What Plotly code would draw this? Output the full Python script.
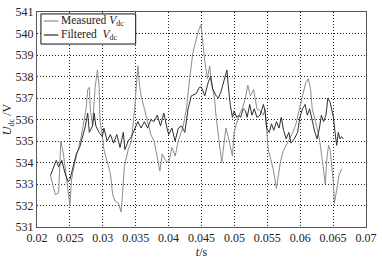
import plotly.graph_objects as go

# Measured V_dc (grey)
meas_t = [0.02205, 0.02279, 0.02328, 0.02362, 0.02402, 0.02451, 0.02475, 0.02500, 0.02525, 0.02574,
          0.02623, 0.02672, 0.02746, 0.02771, 0.02795, 0.02810, 0.02844, 0.02884, 0.02918, 0.02943,
          0.02958, 0.02992, 0.03017, 0.03066, 0.03115, 0.03150, 0.03189, 0.03238, 0.03278, 0.03297,
          0.03327, 0.03386, 0.03435, 0.03484, 0.03509, 0.03533, 0.03558, 0.03582, 0.03632, 0.03681,
          0.03730, 0.03779, 0.03828, 0.03868, 0.03902, 0.03951, 0.04001, 0.04050, 0.04099, 0.04148,
          0.04222, 0.04271, 0.04320, 0.04369, 0.04450, 0.04490, 0.04510, 0.04550, 0.04590, 0.04624,
          0.04649, 0.04698, 0.04723, 0.04757, 0.04787, 0.04807, 0.04837, 0.04871, 0.04906, 0.04946,
          0.04970, 0.04995, 0.05035, 0.05069, 0.05119, 0.05168, 0.05203, 0.05243, 0.05292, 0.05342,
          0.05391, 0.05441, 0.05465, 0.05490, 0.05515, 0.05549, 0.05589, 0.05639, 0.05663, 0.05698,
          0.05738, 0.05787, 0.05837, 0.05886, 0.05936, 0.05985, 0.06035, 0.06084, 0.06124, 0.06158,
          0.06183, 0.06233, 0.06272, 0.06307, 0.06332, 0.06356, 0.06381, 0.06406, 0.06431, 0.06455,
          0.06480, 0.06505, 0.06520, 0.06540, 0.06569, 0.06589, 0.06629]
meas_v = [533.4, 532.5, 532.6, 535.0, 534.4, 533.2, 532.5, 532.0, 533.2, 534.0,
          534.6, 535.2, 536.5, 537.4, 537.5, 536.5, 535.7, 537.5, 538.3, 537.6,
          535.9, 535.3, 534.6, 534.1, 533.5, 532.5, 532.2, 532.1, 531.7, 532.4,
          533.8, 534.6, 535.0, 536.5, 537.8, 538.5, 537.6, 537.1, 536.5, 535.9,
          535.3, 535.0, 534.3, 533.6, 534.4, 534.1, 534.0, 534.7, 534.3, 535.0,
          535.7, 536.5, 537.9, 539.1, 540.1, 540.4, 539.9, 538.7, 537.9, 538.5,
          537.7, 537.0, 536.1, 535.1, 534.5, 534.0, 534.8, 535.6, 535.2, 534.6,
          534.3, 535.4, 535.9, 536.2, 536.5, 537.0, 537.6, 537.1, 537.4, 536.5,
          536.4, 536.2, 536.5, 535.5, 534.6, 534.2, 533.7, 532.8, 533.4, 534.0,
          534.5, 534.8, 535.1, 535.4, 535.8, 536.5, 537.1, 537.7, 537.9, 537.4,
          536.5, 535.9, 535.4, 534.8, 534.2, 533.6, 533.0, 534.2, 534.8, 534.6,
          533.9, 533.0, 532.1, 532.4, 533.0, 533.4, 533.7]

# Filtered V_dc (dark)
filt_t = [0.02205, 0.02254, 0.02293, 0.02328, 0.02377, 0.02426, 0.02475, 0.02500, 0.02549, 0.02598,
          0.02648, 0.02697, 0.02736, 0.02771, 0.02795, 0.02844, 0.02869, 0.02894, 0.02943, 0.02992,
          0.03017, 0.03066, 0.03115, 0.03164, 0.03213, 0.03262, 0.03312, 0.03336, 0.03386, 0.03435,
          0.03484, 0.03533, 0.03582, 0.03632, 0.03681, 0.03730, 0.03779, 0.03828, 0.03877, 0.03927,
          0.03976, 0.04001, 0.04050, 0.04099, 0.04148, 0.04197, 0.04246, 0.04296, 0.04345, 0.04419,
          0.04468, 0.04500, 0.04550, 0.04599, 0.04639, 0.04673, 0.04723, 0.04757, 0.04797, 0.04847,
          0.04886, 0.04906, 0.04936, 0.04970, 0.04995, 0.05035, 0.05069, 0.05094, 0.05134, 0.05168,
          0.05193, 0.05233, 0.05267, 0.05302, 0.05342, 0.05391, 0.05441, 0.05465, 0.05490, 0.05530,
          0.05564, 0.05599, 0.05639, 0.05678, 0.05713, 0.05747, 0.05787, 0.05827, 0.05861, 0.05911,
          0.05960, 0.05995, 0.06035, 0.06074, 0.06109, 0.06143, 0.06183, 0.06223, 0.06257, 0.06292,
          0.06322, 0.06356, 0.06391, 0.06421, 0.06455, 0.06480, 0.06505, 0.06530, 0.06554, 0.06579,
          0.06604, 0.06629, 0.06653]
filt_v = [533.4, 533.8, 534.1, 533.8, 534.1, 533.5, 533.1, 533.2, 533.8, 534.4,
          534.7, 535.2, 535.7, 536.3, 535.4, 535.7, 536.3, 535.7, 535.4, 535.2,
          535.6, 535.0, 535.3, 534.9, 535.3, 534.7, 535.4, 534.6, 535.0, 535.2,
          535.6, 535.9, 535.6, 535.9, 535.6, 536.0, 535.9, 536.2, 535.7, 536.3,
          535.6, 535.3, 535.6, 535.0, 535.6, 535.7, 535.4, 536.5, 537.1, 537.2,
          537.5, 537.5, 537.1, 537.7, 538.0, 537.4, 537.1, 537.0, 537.3, 537.9,
          538.3, 537.6, 536.7, 536.1, 536.4, 536.1, 536.2, 536.1, 536.5, 536.4,
          536.1, 536.7, 536.2, 536.5, 536.1, 536.2, 536.7, 536.4, 535.6, 535.4,
          535.8, 535.5, 535.9, 535.6, 536.1, 535.5, 535.1, 535.4, 534.9, 535.1,
          535.4, 536.1, 536.5, 536.7, 536.2, 536.5, 535.9, 535.4, 535.1, 535.6,
          536.2, 535.9, 536.2, 537.0, 536.8, 536.5, 536.1, 535.4, 534.8, 535.4,
          535.1, 535.2, 535.1]

series_names = ["Measured <i>V</i><sub>dc</sub>", "Filtered  <i>V</i><sub>dc</sub>"]
series_colors = ["#8c8c8c", "#2e2e2e"]

x_ticks = [0.02, 0.025, 0.03, 0.035, 0.04, 0.045, 0.05, 0.055, 0.06, 0.065, 0.07]
x_ticklabels = ["0.02", "0.025", "0.03", "0.035", "0.04", "0.045", "0.05", "0.055", "0.06", "0.065", "0.07"]
y_ticks = [531, 532, 533, 534, 535, 536, 537, 538, 539, 540, 541]

FONT = "Liberation Serif"

fig = go.Figure()
fig.add_trace(go.Scatter(x=meas_t, y=meas_v, mode="lines",
                         line=dict(color=series_colors[0], width=1),
                         name=series_names[0], showlegend=False))
fig.add_trace(go.Scatter(x=filt_t, y=filt_v, mode="lines",
                         line=dict(color=series_colors[1], width=1),
                         name=series_names[1], showlegend=False))

axis_common = dict(showline=True, linecolor="#555555", linewidth=1, mirror=True,
                   showgrid=True, gridcolor="#222222", griddash="1px,2px", gridwidth=1,
                   ticks="", zeroline=False, ticklabeloverflow="allow",
                   tickfont=dict(family=FONT, size=12, color="#222222"))

# Compact legend box (drawn in paper coordinates, like the MATLAB legend)
fig.add_shape(type="rect", xref="paper", yref="paper", x0=0.012, x1=0.300, y0=0.851, y1=0.991,
              line=dict(color="#111111", width=1), fillcolor="white", layer="above")
row_y = [0.958, 0.893]
for name, color, yy in zip(series_names, series_colors, row_y):
    fig.add_shape(type="line", xref="paper", yref="paper", x0=0.021, x1=0.065, y0=yy, y1=yy,
                  line=dict(color=color, width=1.2), layer="above")
    fig.add_annotation(xref="paper", yref="paper", x=0.071, y=yy, text=name, showarrow=False,
                       xanchor="left", yanchor="middle", borderpad=0,
                       font=dict(family=FONT, size=11.5, color="#222222"))

fig.update_layout(
    width=382, height=259,
    margin=dict(l=35, r=10, t=5, b=29),
    paper_bgcolor="white", plot_bgcolor="white",
    font=dict(family=FONT, size=12, color="#222222"),
    xaxis=dict(range=[0.02, 0.07], tickvals=x_ticks, ticktext=x_ticklabels,
               title=dict(text="<i>t</i>/s", font=dict(family=FONT, size=12), standoff=0),
               **axis_common),
    yaxis=dict(range=[531, 541], tickvals=y_ticks,
               title=dict(text="<i>U</i><sub>dc</sub> /V", font=dict(family=FONT, size=12), standoff=2),
               **axis_common),
    showlegend=False,
)

fig.write_html("out.html")
